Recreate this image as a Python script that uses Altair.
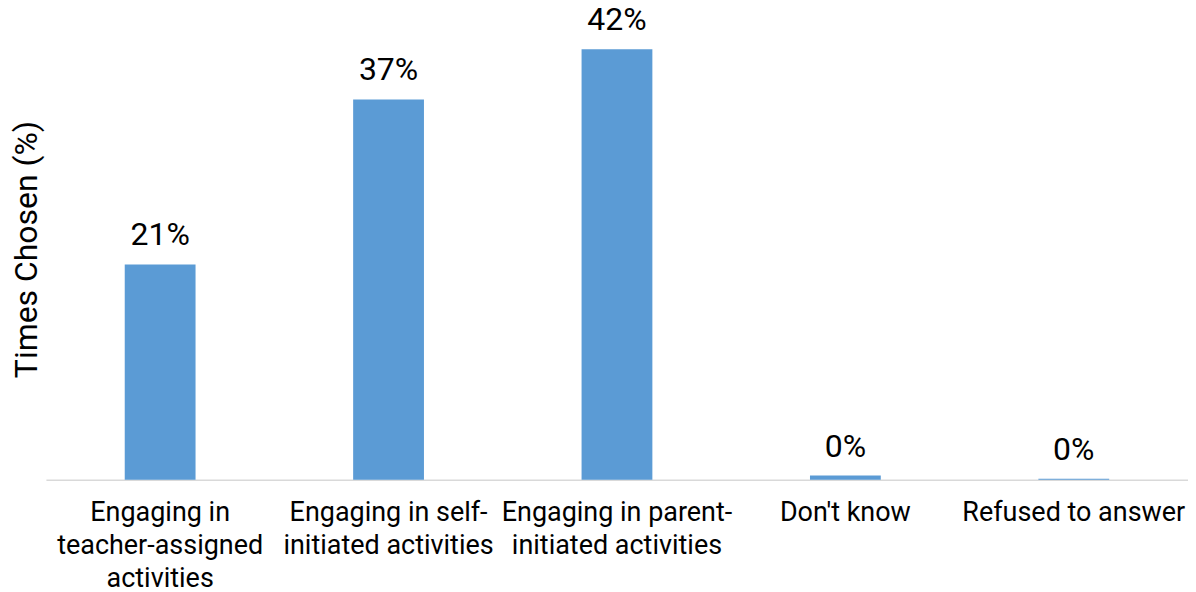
import altair as alt
import pandas as pd

categories = [
    "Engaging in teacher-assigned activities",
    "Engaging in self-initiated activities",
    "Engaging in parent-initiated activities",
    "Don't know",
    "Refused to answer",
]
label_lines = [
    ["Engaging in", "teacher-assigned", "activities"],
    ["Engaging in self-", "initiated activities"],
    ["Engaging in parent-", "initiated activities"],
    ["Don't know"],
    ["Refused to answer"],
]
values = [21.0, 37.1, 42.0, 0.4, 0.1]
value_labels = ["21%", "37%", "42%", "0%", "0%"]

df = pd.DataFrame({
    "category": categories,
    "value": values,
    "label": value_labels,
})

label_map = {c: "|".join(l) for c, l in zip(categories, label_lines)}
label_expr = "split(" + "{" + ",".join(
    "'" + c.replace("'", "\\'") + "':'" + v.replace("'", "\\'") + "'" for c, v in label_map.items()
) + "}[datum.label], '|')"

FONT = "Roboto"
COLOR = "#5B9BD5"

x = alt.X(
    "category:N",
    sort=categories,
    scale=alt.Scale(paddingInner=0.69, paddingOuter=0.345),
    axis=alt.Axis(
        title=None,
        labelExpr=label_expr,
        labelAngle=0,
        labelFontSize=27,
        labelFont=FONT,
        labelColor="#000000",
        labelPadding=20,
        labelLineHeight=33,
        labelBaseline="top",
        ticks=False,
        domainColor="#d9d9d9",
        domainWidth=1.5,
        labelLimit=400,
    ),
)

y = alt.Y(
    "value:Q",
    scale=alt.Scale(domain=[0, 45], nice=False),
    axis=alt.Axis(
        title="Times Chosen (%)",
        titleFont=FONT,
        titleFontSize=32,
        titleFontWeight="normal",
        titleColor="#000000",
        titleX=-9,
        titleY=231,
        titleAngle=270,
        titleAlign="center",
        titleBaseline="alphabetic",
        labels=False,
        ticks=False,
        domain=False,
        grid=False,
    ),
)

base = alt.Chart(df).encode(x=x, y=y)
bars = base.mark_bar(color=COLOR)
text = base.mark_text(
    font=FONT, fontSize=32, color="#000000", dy=-19, baseline="alphabetic"
).encode(text="label:N")

chart = (
    (bars + text)
    .properties(
        width=1144,
        height=462,
        padding={"left": 38, "top": 10, "right": 0, "bottom": 112},
        autosize=alt.AutoSizeParams(type="none"),
    )
    .configure_view(stroke=None)
)

chart.save("out.html", embed_options={"renderer": "svg", "actions": False})
